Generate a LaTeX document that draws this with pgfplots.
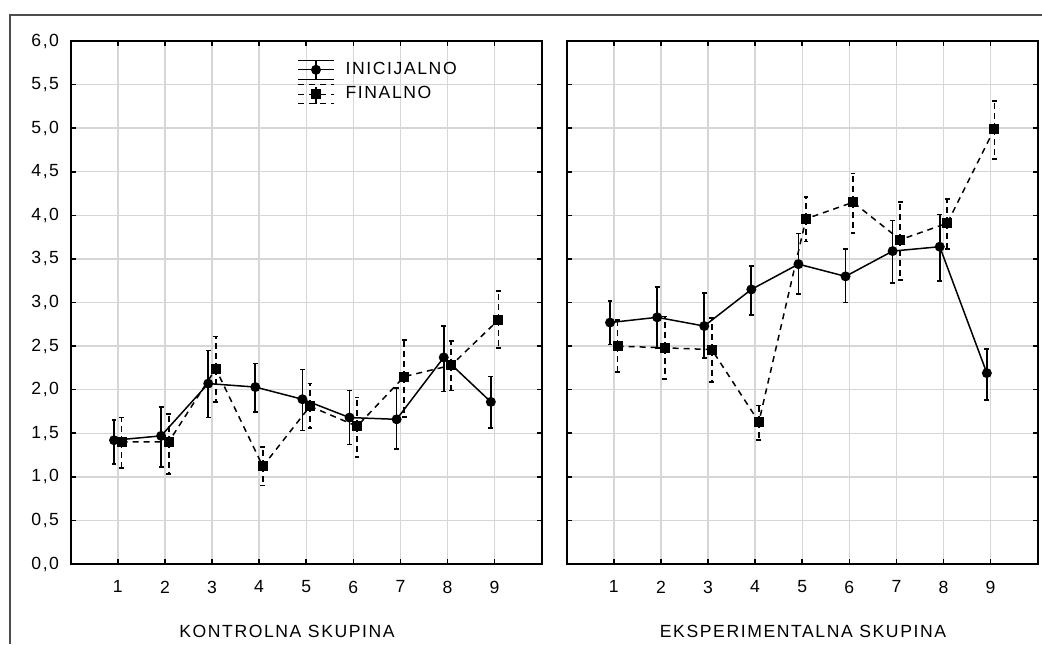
\documentclass[border=0pt]{standalone}
\usepackage{fontspec}
\setmainfont{Liberation Sans}[LetterSpace=9]
\usepackage{pgfplots}
\usepackage{pgfplotstable}
\pgfplotsset{compat=1.18}

\pgfplotstableread{
x y t b
1 1.42 1.65 1.15
2 1.47 1.80 1.11
3 2.07 2.45 1.68
4 2.03 2.30 1.74
5 1.89 2.23 1.53
6 1.68 1.99 1.37
7 1.66 2.02 1.32
8 2.37 2.73 1.98
9 1.86 2.15 1.56
}\leftini
\pgfplotstableread{
x y t b
1 1.40 1.68 1.10
2 1.40 1.72 1.03
3 2.24 2.61 1.86
4 1.12 1.34 0.90
5 1.81 2.07 1.56
6 1.58 1.91 1.23
7 2.15 2.57 1.69
8 2.28 2.56 1.99
9 2.80 3.13 2.48
}\leftfin
\pgfplotstableread{
x y t b
1 2.77 3.02 2.52
2 2.83 3.18 2.48
3 2.73 3.11 2.36
4 3.15 3.42 2.86
5 3.44 3.79 3.10
6 3.30 3.61 3.00
7 3.59 3.94 3.22
8 3.64 4.01 3.25
9 2.19 2.47 1.88
}\rightini
\pgfplotstableread{
x y t b
1 2.50 2.80 2.20
2 2.48 2.84 2.12
3 2.46 2.82 2.09
4 1.63 1.82 1.42
5 3.96 4.21 3.70
6 4.15 4.48 3.80
7 3.72 4.15 3.26
8 3.91 4.19 3.61
9 4.99 5.31 4.65
}\rightfin

\pgfplotsset{
  panel/.style={
    anchor=south west, scale only axis,
    width=235.5pt, height=261.5pt,
    xmin=0, xmax=10, ymin=0, ymax=6,
    xtick={1,2,3,4,5,6,7,8,9},
    ytick={0,0.5,1,1.5,2,2.5,3,3.5,4,4.5,5,5.5,6},
    grid=major,
    major grid style={line width=0.7pt, black!16},
    axis line style={line width=1pt},
    tick align=inside, major tick length=2.5pt,
    tick style={black, line width=0.8pt},
    xtick pos=both, ytick pos=both,
    yticklabel style={xshift=-2.3pt, /pgf/number format/.cd, fixed, fixed zerofill, precision=1, use comma, assume math mode=true},
    xticklabel style={yshift=-4.9pt, /pgf/number format/assume math mode=true},
    ticklabel style={font=\fontsize{8.8pt}{10pt}\selectfont},
  },
  ini/.style={black, line width=0.75pt, mark=*, mark size=2.1pt, mark options={solid},
    error bars/.cd, y dir=both, y explicit,
    error bar style={line width=0.85pt, solid},
    error mark options={rotate=90, line width=0.85pt, mark size=1.2pt, solid}},
  fin/.style={black, line width=0.75pt, dash pattern=on 3pt off 2.5pt, mark=square*, mark size=2.1pt, mark options={solid},
    error bars/.cd, y dir=both, y explicit,
    error bar style={line width=0.85pt, dash pattern=on 3pt off 2pt},
    error mark options={rotate=90, line width=0.85pt, mark size=1.2pt, solid}},
}

\begin{document}
\begin{tikzpicture}
\useasboundingbox (0,0) rectangle (521pt,322pt);
\draw[line width=0.6pt, black!70] (5pt,0pt) -- (5pt,314.5pt) -- (521pt,314.5pt);

\begin{axis}[panel, at={(35.35pt,40pt)},
  legend image code/.code={
    \draw[#1,mark=none,line width=0.6pt] (0pt,4.7pt)--(18pt,4.7pt) (0pt,0pt)--(18pt,0pt) (0pt,-4.7pt)--(18pt,-4.7pt) (9pt,-4.7pt)--(9pt,4.7pt);
    \draw[#1] plot coordinates {(9pt,0pt)};
  },
  legend style={at={(0.4805,0.968)}, anchor=north west, draw=none, fill=none,
    font=\fontsize{8.8pt}{10pt}\selectfont, row sep=0.6pt, inner sep=0pt,
    /tikz/every odd column/.append style={column sep=3.5pt}},
  legend cell align=left,
]
\addplot[ini] table[x expr=\thisrow{x}-0.08, y=y, y error plus expr=\thisrow{t}-\thisrow{y}, y error minus expr=\thisrow{y}-\thisrow{b}] {\leftini};
\addlegendentry{INICIJALNO}
\addplot[fin] table[x expr=\thisrow{x}+0.08, y=y, y error plus expr=\thisrow{t}-\thisrow{y}, y error minus expr=\thisrow{y}-\thisrow{b}] {\leftfin};
\addlegendentry{FINALNO}
\end{axis}

\begin{axis}[panel, at={(283.35pt,40pt)}, yticklabels={}]
\addplot[ini] table[x expr=\thisrow{x}-0.08, y=y, y error plus expr=\thisrow{t}-\thisrow{y}, y error minus expr=\thisrow{y}-\thisrow{b}] {\rightini};
\addplot[fin] table[x expr=\thisrow{x}+0.08, y=y, y error plus expr=\thisrow{t}-\thisrow{y}, y error minus expr=\thisrow{y}-\thisrow{b}] {\rightfin};
\end{axis}

\node[font=\fontsize{8.8pt}{10pt}\selectfont, anchor=base, inner sep=0pt] at (143.5pt,3.2pt) {KONTROLNA SKUPINA};
\node[font=\fontsize{8.8pt}{10pt}\selectfont, anchor=base, inner sep=0pt] at (401.5pt,3.2pt) {EKSPERIMENTALNA SKUPINA};
\end{tikzpicture}
\end{document}
